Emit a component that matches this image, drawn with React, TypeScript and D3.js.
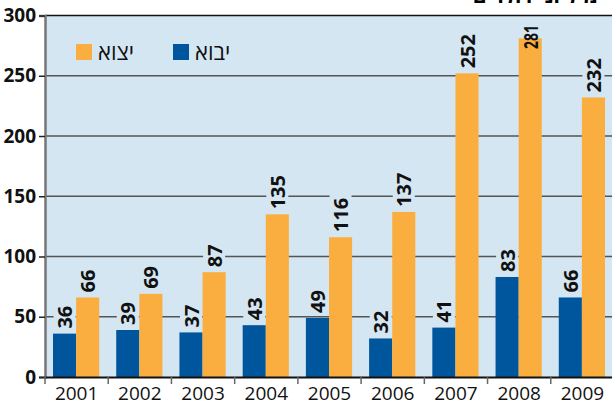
import { useRef, useEffect } from "react";
import * as d3 from "d3";

const years = ["2001", "2002", "2003", "2004", "2005", "2006", "2007", "2008", "2009"];
const imports = [36, 39, 37, 43, 49, 32, 41, 83, 66];
const exports = [66, 69, 87, 135, 116, 137, 252, 281, 232];
const yTicks = [0, 50, 100, 150, 200, 250, 300];
const seriesNames = ["יבוא", "יצוא"];
const title = "מיליוני דולרים";

const BLUE = "#00569d";
const ORANGE = "#fbae40";
const BG = "#d5e6f3";
const FONT = "'Open Sans', 'DejaVu Sans', sans-serif";

export default function App() {
    const svgRef = useRef<SVGSVGElement>(null);

    useEffect(() => {
        const width = 612;
        const height = 405;
        const MARGIN = { top: 15.5, right: -2, bottom: 28, left: 45 };

        const svg = d3.select(svgRef.current)
            .attr("width", width)
            .attr("height", height)
            .style("font-family", FONT);
        svg.selectAll("*").remove();

        const x = d3.scaleBand()
            .domain(years)
            .range([MARGIN.left, width - MARGIN.right]);

        const y = d3.scaleLinear()
            .domain([0, 300])
            .range([height - MARGIN.bottom, MARGIN.top]);

        const inner = d3.scaleBand()
            .domain(["imp", "exp"])
            .range([8, x.bandwidth() - 9]);

        // title, clipped by the top of the page just like the source
        svg.append("text")
            .attr("x", 598)
            .attr("y", 2.5)
            .attr("text-anchor", "end")
            .style("font-size", "21px")
            .style("font-weight", "bold")
            .attr("fill", "#000")
            .text(title);

        // plot background
        svg.append("rect")
            .attr("x", MARGIN.left)
            .attr("y", y(300))
            .attr("width", width - MARGIN.left)
            .attr("height", y(0) - y(300))
            .attr("fill", BG);

        // gridlines
        svg.append("g")
            .selectAll("line")
            .data(yTicks.filter(d => d > 0))
            .join("line")
            .attr("x1", MARGIN.left)
            .attr("x2", width)
            .attr("y1", d => y(d))
            .attr("y2", d => y(d))
            .attr("stroke", d => d === 300 ? "#111" : "#555")
            .attr("stroke-width", 1.5);

        const rows = years.map((yr, i) => ({ yr, imp: imports[i], exp: exports[i] }));
        const items = rows.flatMap(r => [
            { yr: r.yr, key: "imp", v: r.imp, color: BLUE },
            { yr: r.yr, key: "exp", v: r.exp, color: ORANGE },
        ]);

        const cx = (d: any) => (x(d.yr) as number) + (inner(d.key) as number) + inner.bandwidth() / 2;
        const natural = (d: any) => String(d.v).length * 11.4;
        // labels that would run off the top get pushed down and squeezed
        const labelBase = (d: any) => Math.max(y(d.v) - 5, 49);
        const labelLen = (d: any) => Math.min(natural(d), labelBase(d) - 25);

        // label backgrounds (mask gridlines, sit under bars)
        svg.append("g")
            .selectAll("rect")
            .data(items)
            .join("rect")
            .attr("x", d => cx(d) - 11)
            .attr("y", d => labelBase(d) - labelLen(d) - 3)
            .attr("width", 22)
            .attr("height", d => labelLen(d) + 5)
            .attr("fill", BG);

        // bars
        svg.append("g")
            .selectAll("rect")
            .data(items)
            .join("rect")
            .attr("x", d => (x(d.yr) as number) + (inner(d.key) as number))
            .attr("y", d => y(d.v))
            .attr("width", inner.bandwidth())
            .attr("height", d => y(0) - y(d.v))
            .attr("fill", d => d.color);

        // value labels
        svg.append("g")
            .selectAll("text")
            .data(items)
            .join("text")
            .attr("transform", d => `translate(${cx(d) + 7.5},${labelBase(d)}) rotate(-90)`)
            .attr("text-anchor", "start")
            .attr("textLength", d => labelLen(d) < natural(d) ? labelLen(d) : null)
            .attr("lengthAdjust", "spacingAndGlyphs")
            .style("font-size", "20px")
            .style("font-weight", "bold")
            .attr("fill", "#111")
            .text(d => d.v);

        // y axis
        const yAxis = d3.axisLeft(y).tickValues(yTicks).tickSize(6).tickPadding(3);
        const gy = svg.append("g")
            .attr("transform", `translate(${MARGIN.left},0)`)
            .call(yAxis);
        gy.select(".domain").attr("stroke", "#777").attr("stroke-width", 2.5);
        gy.selectAll(".tick line").attr("stroke", "#222").attr("stroke-width", 1.5);
        gy.selectAll(".tick text")
            .attr("fill", "#111")
            .style("font-family", FONT)
            .style("font-size", "19px")
            .style("font-weight", "bold");

        // x axis
        const xAxis = d3.axisBottom(x).tickSize(0).tickPadding(10);
        const gx = svg.append("g")
            .attr("transform", `translate(0,${y(0)})`)
            .call(xAxis);
        gx.select(".domain").attr("stroke", "#111").attr("stroke-width", 2);
        gx.selectAll(".tick text")
            .attr("fill", "#111")
            .style("font-family", FONT)
            .style("font-size", "19px");
        gx.append("g")
            .selectAll("line")
            .data(years)
            .join("line")
            .attr("x1", d => x(d) as number)
            .attr("x2", d => x(d) as number)
            .attr("y1", 0)
            .attr("y2", 7)
            .attr("stroke", "#666")
            .attr("stroke-width", 1.5);

        // legend
        const legend = svg.append("g");
        const legendItems = [
            { name: seriesNames[1], color: ORANGE, x: 76 },
            { name: seriesNames[0], color: BLUE, x: 173 },
        ];
        legendItems.forEach(l => {
            legend.append("rect")
                .attr("x", l.x)
                .attr("y", 44)
                .attr("width", 16)
                .attr("height", 16)
                .attr("fill", l.color);
            legend.append("text")
                .attr("x", l.x + 22)
                .attr("y", 60)
                .attr("direction", "rtl")
                .attr("text-anchor", "end")
                .style("font-size", "22px")
                .attr("fill", "#111")
                .text(l.name);
        });
    }, []);

    return (
        <div style={{ position: "absolute", left: 0, top: 0 }}>
            <svg ref={svgRef} style={{ display: "block" }}></svg>
        </div>
    );
}
